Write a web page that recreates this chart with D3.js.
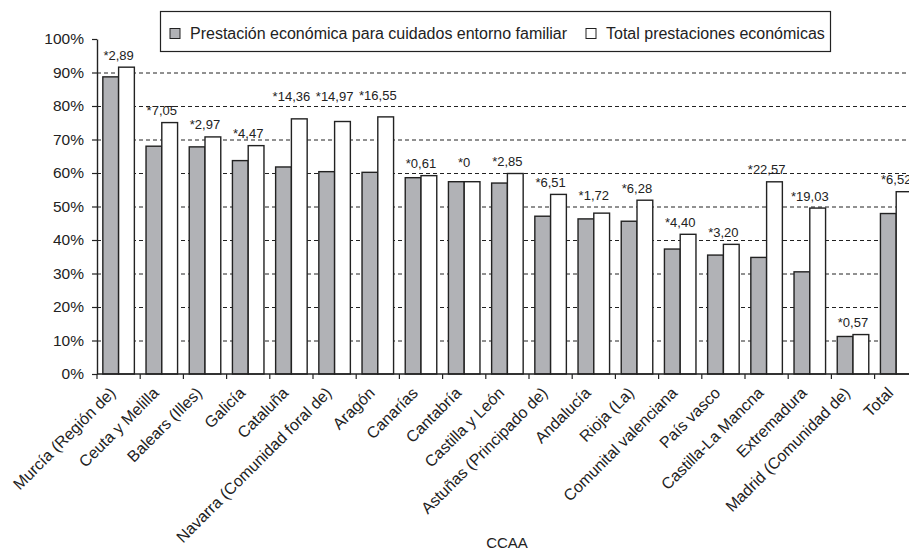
<!DOCTYPE html>
<html>
<head>
<meta charset="utf-8">
<script src="https://cdn.jsdelivr.net/npm/d3@7"></script>
<style>
  html, body { margin: 0; padding: 0; background: #fff; }
  svg { display: block; font-family: "Liberation Sans", Arial, Helvetica, sans-serif; }
</style>
</head>
<body>
<svg id="chart" width="909" height="552"></svg>
<script>
// Comunidades autónomas, ordered by the family-care benefit share
const categories = [
  "Murcía (Región de)", "Ceuta y Melilla", "Balears (Illes)", "Galicía", "Cataluña",
  "Navarra (Comunidad foral de)", "Aragón", "Canarías", "Cantabría", "Castilla y León",
  "Astuñas (Principado de)", "Andalucía", "Rioja (La)", "Comunital valenciana", "País vasco",
  "Castilla-La Mancna", "Extremadura", "Madrid (Comunidad de)", "Total"
];

// Share (%) of the family-care benefit
const cuidadosFamiliar = [
  88.7, 68.0, 67.8, 63.7, 61.8, 60.4, 60.2, 58.6, 57.4, 57.0,
  47.1, 46.3, 45.6, 37.3, 35.5, 34.8, 30.5, 11.2, 47.9
];

// Difference (percentage points) up to the total of economic benefits
const diferencia = [
  2.89, 7.05, 2.97, 4.47, 14.36, 14.97, 16.55, 0.61, 0, 2.85,
  6.51, 1.72, 6.28, 4.40, 3.20, 22.57, 19.03, 0.57, 6.52
];

// Labels printed above each pair
const diferenciaLabels = [
  "*2,89", "*7,05", "*2,97", "*4,47", "*14,36", "*14,97", "*16,55", "*0,61", "*0", "*2,85",
  "*6,51", "*1,72", "*6,28", "*4,40", "*3,20", "*22,57", "*19,03", "*0,57", "*6,52"
];

// Share (%) of all economic benefits
const totalPrestaciones = cuidadosFamiliar.map((v, i) => +(v + diferencia[i]).toFixed(2));

const seriesNames = ["Prestación económica para cuidados entorno familiar", "Total prestaciones económicas"];
const yTicks = [0, 10, 20, 30, 40, 50, 60, 70, 80, 90, 100];

const rows = categories.map((c, i) => ({
  cat: c,
  vals: [cuidadosFamiliar[i], totalPrestaciones[i]],
  label: diferenciaLabels[i]
}));

const svg = d3.select("#chart");
const W = 909;
const plotLeft = 97, plotTop = 39, plotBottom = 374;
const step = 43.2;
const plotRight = plotLeft + step * categories.length;

const x0 = d3.scaleBand().domain(categories).range([plotLeft, plotRight])
  .paddingInner(0.27).paddingOuter(0.135);
const x1 = d3.scaleBand().domain([0, 1]).range([0, x0.bandwidth()]);
const y = d3.scaleLinear().domain([0, 100]).range([plotBottom, plotTop]);
const fill = d3.scaleOrdinal().domain([0, 1]).range(["#b1b2b6", "#ffffff"]);

// Gridlines
svg.append("g")
  .selectAll("line")
  .data(yTicks.filter(t => t > 0 && t < 100))
  .join("line")
  .attr("x1", plotLeft).attr("x2", W)
  .attr("y1", d => y(d) + 0.5).attr("y2", d => y(d) + 0.5)
  .attr("stroke", "#222").attr("stroke-width", 1)
  .attr("stroke-dasharray", "4,3");

// Bars
const groups = svg.append("g").selectAll("g")
  .data(rows).join("g")
  .attr("transform", d => `translate(${x0(d.cat)},0)`);

groups.selectAll("rect")
  .data(d => d.vals.map((v, k) => ({ v, k })))
  .join("rect")
  .attr("x", d => x1(d.k))
  .attr("width", x1.bandwidth())
  .attr("y", d => y(d.v))
  .attr("height", d => plotBottom - y(d.v))
  .attr("fill", d => fill(d.k))
  .attr("stroke", "#222").attr("stroke-width", 1.4);

// Difference labels above each pair
const lift = { "Cataluña": 18, "Navarra (Comunidad foral de)": 21, "Aragón": 16.5, "Cantabría": 15, "Andalucía": 13 };
groups.append("text")
  .attr("x", x0.bandwidth() / 2)
  .attr("y", d => y(d.vals[1]) - (lift[d.cat] || 7.5))
  .attr("text-anchor", "middle")
  .attr("font-size", 13)
  .attr("fill", "#222")
  .text(d => d.label);

// Y axis
const yAxis = svg.append("g")
  .attr("transform", `translate(${plotLeft},0)`)
  .call(d3.axisLeft(y).tickValues(yTicks).tickSize(5).tickSizeOuter(0).tickFormat(d => d + "%"));
yAxis.select(".domain").attr("stroke", "#222").attr("stroke-width", 1.4);
yAxis.selectAll(".tick line").attr("stroke", "#222").attr("stroke-width", 1.2);
yAxis.selectAll(".tick text").attr("font-size", 15.5).attr("fill", "#222")
  .attr("font-family", "Liberation Sans, Arial, sans-serif").attr("x", -13);

// X axis baseline and category separators
svg.append("line")
  .attr("x1", plotLeft).attr("x2", W)
  .attr("y1", plotBottom).attr("y2", plotBottom)
  .attr("stroke", "#222").attr("stroke-width", 1.4);

const bounds = d3.range(categories.length + 1).map(i => plotLeft + i * x0.step());
svg.append("g").selectAll("line")
  .data(bounds).join("line")
  .attr("x1", d => d).attr("x2", d => d)
  .attr("y1", plotBottom).attr("y2", plotBottom + 5)
  .attr("stroke", "#222").attr("stroke-width", 1.2);

// Category labels
svg.append("g").selectAll("text")
  .data(categories).join("text")
  .attr("transform", d => `translate(${x0(d) + x0.bandwidth() / 2 - 2},${plotBottom + 20}) rotate(-45)`)
  .attr("text-anchor", "end")
  .attr("font-size", 16)
  .attr("fill", "#222")
  .text(d => d);

// Axis title
svg.append("text")
  .attr("x", 507).attr("y", 548)
  .attr("text-anchor", "middle")
  .attr("font-size", 15)
  .attr("fill", "#222")
  .text("CCAA");

// Legend
const legend = svg.append("g");
legend.append("rect")
  .attr("x", 160.5).attr("y", 11.5).attr("width", 670).attr("height", 40)
  .attr("fill", "#fff").attr("stroke", "#222").attr("stroke-width", 1.2);
const legendX = [170, 586];
seriesNames.forEach((name, k) => {
  legend.append("rect")
    .attr("x", legendX[k]).attr("y", 28.5).attr("width", 10).attr("height", 10)
    .attr("fill", fill(k)).attr("stroke", "#222").attr("stroke-width", 1);
  legend.append("text")
    .attr("x", legendX[k] + 20).attr("y", 39)
    .attr("font-size", 16)
    .attr("fill", "#222")
    .text(name);
});
</script>
</body>
</html>
